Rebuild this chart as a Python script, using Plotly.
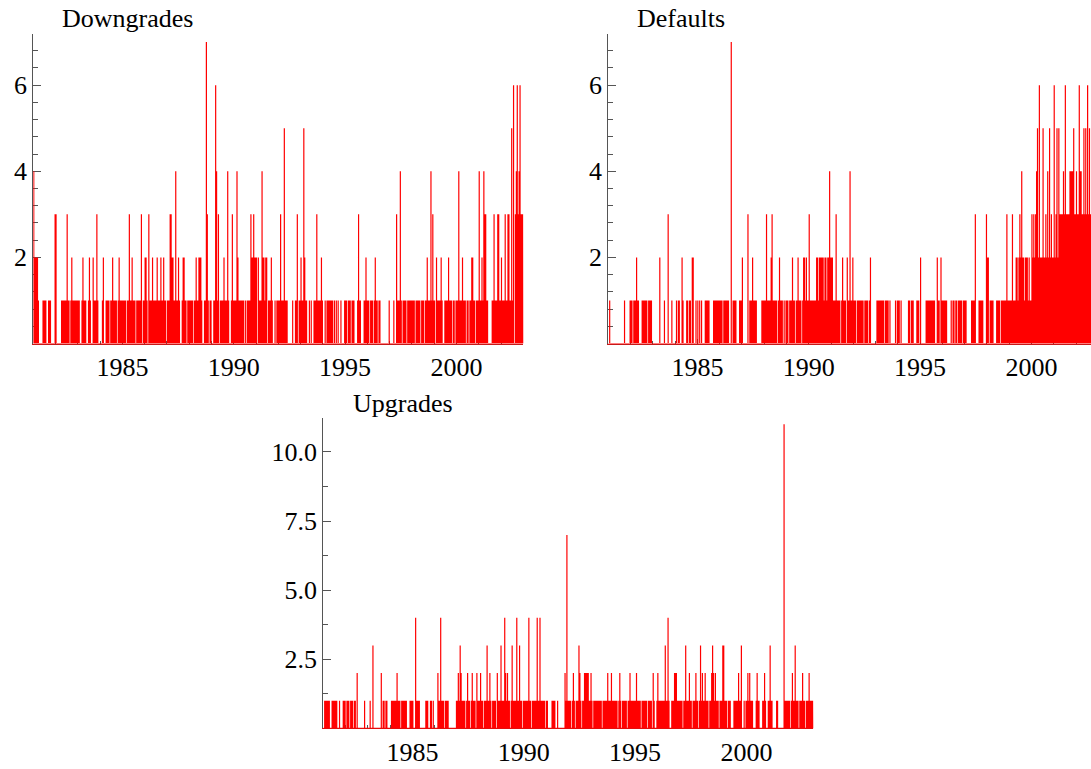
import plotly.graph_objects as go

# ---------------------------------------------------------------------------
# Data: daily rating-event counts, summarised as half-month bins (24 per year).
# Each string = one calendar year, each character = max count in that bin
# (hexadecimal digit, so "b" = 11).
# ---------------------------------------------------------------------------
YEARS = list(range(1981, 2003))
BINS_PER_YEAR = 24

DOWNGRADES = [
    "422221000011110011100003",  # 1981
    "300000111111311012111111",  # 1982
    "110012111001210021113100",  # 1983
    "001200111101121111012111",  # 1984
    "111101131121110111113011",  # 1985
    "221031112111121112112110",  # 1986
    "111332211411210012211011",  # 1987
    "111101121122210011731011",  # 1988
    "001164130111121114100131",  # 1989
    "111421111110101111322322",  # 1990
    "202111422122011121001011",  # 1991
    "113111511100000100113011",  # 1992
    "211521100101001113111121",  # 1993
    "001011111110101010010001",  # 1994
    "110111011100013110001121",  # 1995
    "110111012110110000000001",  # 1996
    "000010031114101111011111",  # 1997
    "111011111011101121114131",  # 1998
    "102111121001111211101101",  # 1999
    "114111211101101122110111",  # 2000
    "411214331100001131113311",  # 2001
    "211131133115160346346333",  # 2002
]

DEFAULTS = [
    "010000000000000001000001",  # 1981
    "110111211000111111011110",  # 1982
    "000000020000100030001000",  # 1983
    "010110021000110110220010",  # 1984
    "101010001111100001111111",  # 1985
    "111011111100701111000111",  # 1986
    "200000301112111100000111",  # 1987
    "113111123111110121110101",  # 1988
    "110111211011211101221211",  # 1989
    "311111112212222212212242",  # 1990
    "221113111101211102114112",  # 1991
    "111011111110111101200000",  # 1992
    "011111111011110100000101",  # 1993
    "110100000001101110001110",  # 1994
    "200000111111111100211021",  # 1995
    "111110000101101101111011",  # 1996
    "110000011113000111110003",  # 1997
    "220111100011110111111311",  # 1998
    "111311122123242212221211",  # 1999
    "323234526222522324252322",  # 2000
    "623525333343633334444533",  # 2001
    "433644335353635334332332",  # 2002
]

UPGRADES = [
    "011111100111111001000111",  # 1981
    "011101110110200000001000",  # 1982
    "001003000000002011011000",  # 1983
    "011111121110111111000111",  # 1984
    "100411110000001110011010",  # 1985
    "000211411101111000000001",  # 1986
    "121321111012110121110211",  # 1987
    "121101113112101111021113",  # 1988
    "111421211013111141131101",  # 1989
    "111114110111114114111110",  # 1990
    "110000111100100000002171",  # 1991
    "111012101113210112222211",  # 1992
    "210111111111011111211121",  # 1993
    "111110121011111011211111",  # 1994
    "121111011111101111021001",  # 1995
    "211111113114100111222111",  # 1996
    "111011311121101112110131",  # 1997
    "211211101123212111011133",  # 1998
    "111011100011111211300101",  # 1999
    "121211100012110001121001",  # 2000
    "1311000011000000b1111110",  # 2001
    "121131110111211011121111",  # 2002
]

X_TICKS = [1985, 1990, 1995, 2000]
X_TICK_TEXT = ["1985", "1990", "1995", "2000"]
Y_TICKS_TOP = [2, 4, 6]
Y_TICK_TEXT_TOP = ["2", "4", "6"]
Y_TICKS_UP = [2.5, 5.0, 7.5, 10.0]
Y_TICK_TEXT_UP = ["2.5", "5.0", "7.5", "10.0"]
TITLES = ["Downgrades", "Defaults", "Upgrades"]


def spikes(rows):
    """Turn the binned counts into a spike line (0 -> count -> 0 per bin)."""
    xs, ys = [YEARS[0]], [0]
    for year, row in zip(YEARS, rows):
        for i, ch in enumerate(row):
            v = int(ch, 16)
            if v:
                t = year + (i + 0.5) / BINS_PER_YEAR
                xs += [t, t, t]
                ys += [0, v, 0]
    xs.append(YEARS[-1] + 1)
    ys.append(0)
    return xs, ys


W, H = 1091, 769
FONT = dict(family="Liberation Serif, Times New Roman, serif", size=26, color="black")
AX = "#555555"
RED = "#ff0000"
BASE = "#c81818"

fig = go.Figure()
for rows, xa, ya in [(DOWNGRADES, "x", "y"), (DEFAULTS, "x2", "y2"), (UPGRADES, "x3", "y3")]:
    xs, ys = spikes(rows)
    fig.add_trace(go.Scatter(x=xs, y=ys, xaxis=xa, yaxis=ya, mode="lines",
                             line=dict(color=RED, width=1.2), hoverinfo="skip",
                             showlegend=False))


def px_x(p):
    return p / W


def px_y(p):
    return 1 - p / H


def xaxis(dom, rng, anchor):
    return dict(domain=dom, range=rng, anchor=anchor, showgrid=False, zeroline=False,
                showline=True, linecolor=BASE, linewidth=1,
                ticks="inside", ticklen=5, tickcolor=AX,
                tickvals=X_TICKS, ticktext=X_TICK_TEXT, tickfont=FONT,
                minor=dict(dtick=1, tick0=1981, ticks="inside", ticklen=3,
                           tickcolor=AX, showgrid=False),
                layer="below traces", fixedrange=True)


def yaxis(dom, rng, anchor, vals, texts, minor_dtick):
    return dict(domain=dom, range=rng, anchor=anchor, showgrid=False, zeroline=False,
                showline=True, linecolor=AX, linewidth=1,
                ticks="inside", ticklen=8, tickcolor=AX,
                tickvals=vals, ticktext=texts, tickfont=FONT,
                minor=dict(dtick=minor_dtick, tick0=0, ticks="inside", ticklen=5,
                           tickcolor=AX, showgrid=False),
                layer="below traces", fixedrange=True)


top_dom = [px_y(343.5), px_y(33.5)]
bot_dom = [px_y(728.4), px_y(417.7)]
px_per_year = 490.0 / 22.0

fig.update_layout(
    width=W, height=H,
    margin=dict(l=0, r=0, t=0, b=0),
    paper_bgcolor="white", plot_bgcolor="white",
    font=FONT,
    xaxis=xaxis([px_x(33.3), px_x(523.3)], [1981, 2003], "y"),
    yaxis=yaxis(top_dom, [0, 7.2], "x", Y_TICKS_TOP, Y_TICK_TEXT_TOP, 0.4),
    xaxis2=xaxis([px_x(608.3), 1.0], [1981, 1981 + (W - 608.3) / px_per_year], "y2"),
    yaxis2=yaxis(top_dom, [0, 7.2], "x2", Y_TICKS_TOP, Y_TICK_TEXT_TOP, 0.4),
    xaxis3=xaxis([px_x(323.3), px_x(813.3)], [1981, 2003], "y3"),
    yaxis3=yaxis(bot_dom, [0, 11.24], "x3", Y_TICKS_UP, Y_TICK_TEXT_UP, 1.25),
    annotations=[
        dict(text=TITLES[0], x=px_x(60), y=px_y(18), xref="paper", yref="paper",
             xanchor="left", yanchor="middle", showarrow=False, font=FONT),
        dict(text=TITLES[1], x=px_x(635), y=px_y(18), xref="paper", yref="paper",
             xanchor="left", yanchor="middle", showarrow=False, font=FONT),
        dict(text=TITLES[2], x=px_x(351), y=px_y(404), xref="paper", yref="paper",
             xanchor="left", yanchor="middle", showarrow=False, font=FONT),
    ],
)

fig.write_html("out.html")
